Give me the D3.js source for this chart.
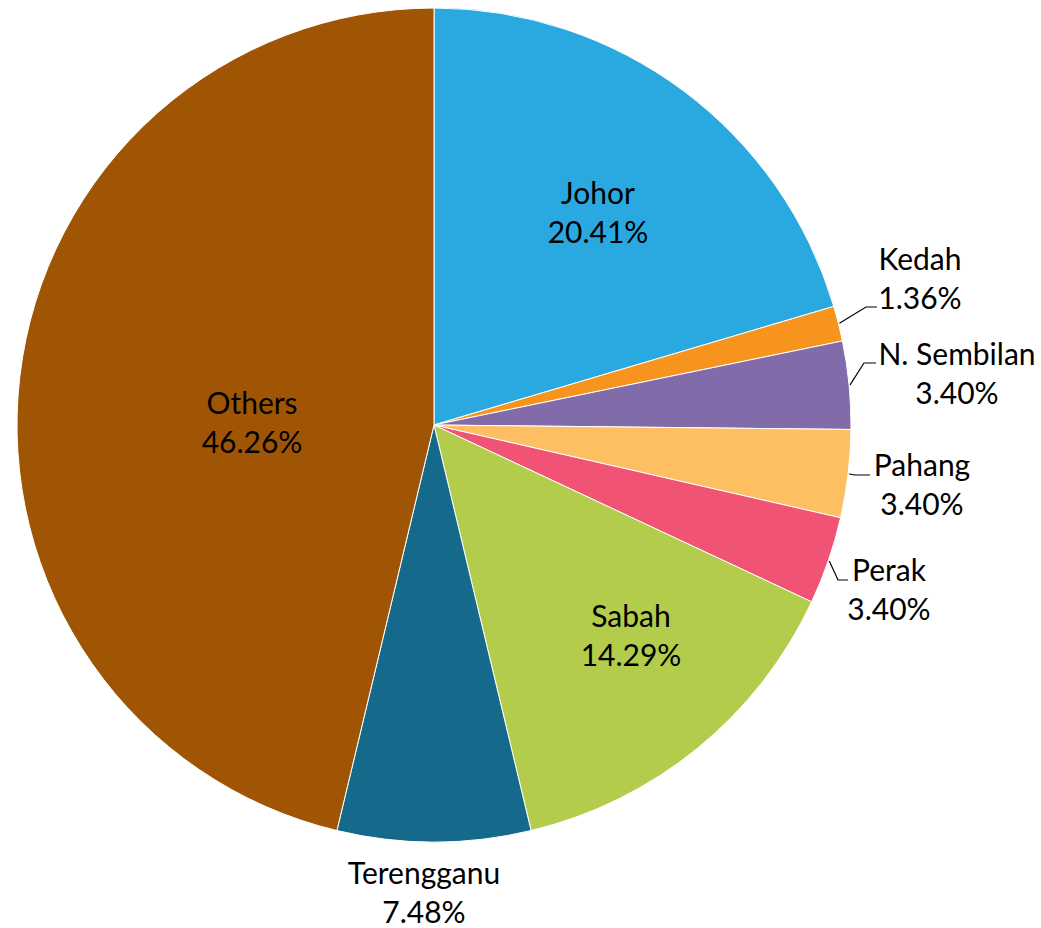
<!DOCTYPE html>
<html>
<head>
<meta charset="utf-8">
<script src="https://cdn.jsdelivr.net/npm/d3@7"></script>
<style>
  html, body { margin: 0; padding: 0; background: #fff; }
  svg { display: block; }
</style>
</head>
<body>
<svg id="chart" width="1041" height="928"></svg>
<script>
// ---- data ----
const categories = ["Johor", "Kedah", "N. Sembilan", "Pahang", "Perak", "Sabah", "Terengganu", "Others"];
const values = [20.41, 1.36, 3.40, 3.40, 3.40, 14.29, 7.48, 46.26];
const valueLabels = ["20.41%", "1.36%", "3.40%", "3.40%", "3.40%", "14.29%", "7.48%", "46.26%"];
const colors = ["#29A9E0", "#F7941D", "#816BA8", "#FEBF63", "#F05373", "#B3CC4B", "#15698B", "#A05505"];

// ---- layout (label centres relative to pie centre, leader elbows/ends) ----
const labelOffsets = [[164, -212], [486, -146], [523, -51], [488, 60], [455, 165], [197, 211], [-10, 468], [-182, -2]];
const leaderElbows = [null, [432, -118], [430, -62], [421, 50], [404, 155], null, null, null];
const leaderEnds   = [null, [443, -118], [442, -62], [436, 50], [414, 155], null, null, null];

const W = 1041, H = 928;
const cx = 434, cy = 425, R = 417;
const fontFamily = "Lato, 'Open Sans', sans-serif";
const fontSize = 30;
const lineGap = 39;

const svg = d3.select("#chart");
const g = svg.append("g").attr("transform", `translate(${cx},${cy})`);

const data = categories.map((c, i) => ({ name: c, value: values[i], label: valueLabels[i], color: colors[i], idx: i }));

const pie = d3.pie().sort(null).value(d => d.value).startAngle(0).endAngle(2 * Math.PI);
const arcs = pie(data);
const arc = d3.arc().innerRadius(0).outerRadius(R);

g.selectAll("path.slice")
  .data(arcs)
  .enter().append("path")
  .attr("class", "slice")
  .attr("d", arc)
  .attr("fill", d => d.data.color)
  .attr("stroke", "#ffffff")
  .attr("stroke-width", 1);

// leader lines
arcs.forEach(a => {
  const i = a.data.idx;
  if (!leaderElbows[i]) return;
  const mid = (a.startAngle + a.endAngle) / 2;
  const sx = (R + 1) * Math.sin(mid), sy = -(R + 1) * Math.cos(mid);
  g.append("polyline")
    .attr("points", [[sx, sy], leaderElbows[i], leaderEnds[i]].map(p => p.join(",")).join(" "))
    .attr("fill", "none")
    .attr("stroke", "#000")
    .attr("stroke-width", 1.2);
});

// labels
const labels = g.selectAll("g.label")
  .data(arcs)
  .enter().append("g")
  .attr("class", "label")
  .attr("transform", d => `translate(${labelOffsets[d.data.idx][0]},${labelOffsets[d.data.idx][1]})`);

labels.append("text")
  .attr("text-anchor", "middle")
  .attr("font-family", fontFamily)
  .attr("font-size", fontSize)
  .attr("fill", "#000")
  .attr("y", -lineGap / 2)
  .attr("dy", "0.35em")
  .text(d => d.data.name);

labels.append("text")
  .attr("text-anchor", "middle")
  .attr("font-family", fontFamily)
  .attr("font-size", fontSize)
  .attr("fill", "#000")
  .attr("y", lineGap / 2)
  .attr("dy", "0.35em")
  .text(d => d.data.label);
</script>
</body>
</html>
